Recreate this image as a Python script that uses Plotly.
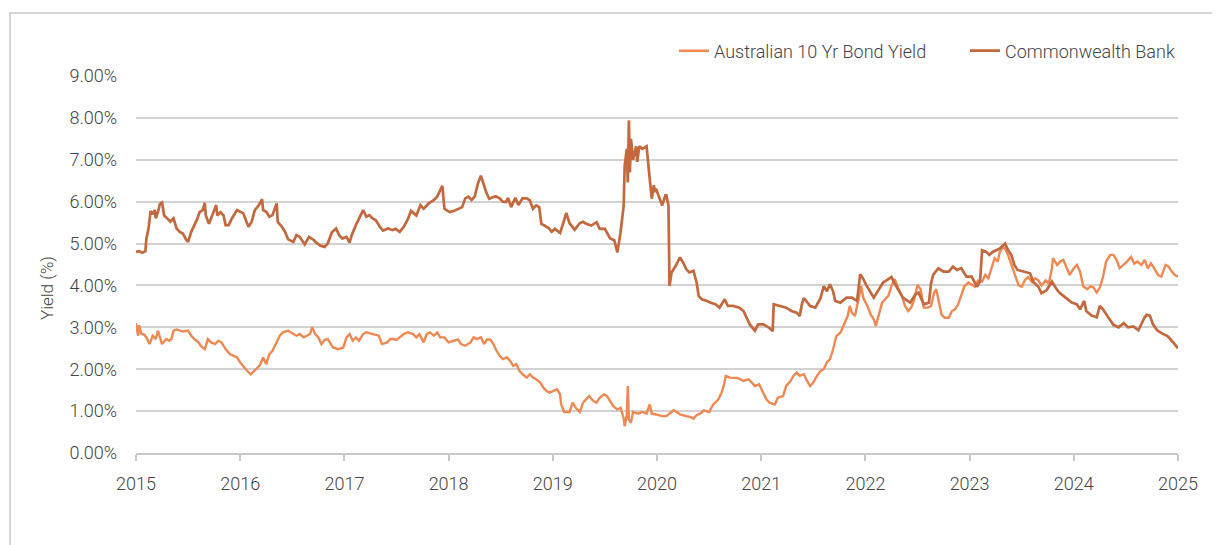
import plotly.graph_objects as go

# ---- Data (decimal years, yield %) ----
cba_x = [2015.00, 2015.03, 2015.06, 2015.09, 2015.10, 2015.12, 2015.14, 2015.16, 2015.18, 2015.19,
         2015.21, 2015.23, 2015.25, 2015.27, 2015.30, 2015.33, 2015.36, 2015.39, 2015.42, 2015.45,
         2015.48, 2015.50, 2015.53, 2015.56, 2015.59, 2015.61, 2015.64, 2015.66, 2015.67, 2015.70,
         2015.74, 2015.77, 2015.78, 2015.81, 2015.84, 2015.86, 2015.89, 2015.92, 2015.97, 2016.00,
         2016.03, 2016.06, 2016.08, 2016.11, 2016.14, 2016.18, 2016.21, 2016.22, 2016.25, 2016.28,
         2016.31, 2016.35, 2016.36, 2016.40, 2016.43, 2016.46, 2016.51, 2016.54, 2016.57, 2016.62,
         2016.66, 2016.71, 2016.72, 2016.77, 2016.81, 2016.84, 2016.88, 2016.92, 2016.95, 2016.98,
         2017.02, 2017.05, 2017.07, 2017.11, 2017.14, 2017.18, 2017.21, 2017.24, 2017.27, 2017.30,
         2017.34, 2017.37, 2017.42, 2017.46, 2017.49, 2017.53, 2017.57, 2017.61, 2017.64, 2017.69,
         2017.73, 2017.76, 2017.81, 2017.86, 2017.89, 2017.93, 2017.94, 2017.96, 2018.01, 2018.06,
         2018.09, 2018.13, 2018.16, 2018.19, 2018.22, 2018.25, 2018.28, 2018.31, 2018.33, 2018.36,
         2018.39, 2018.45, 2018.49, 2018.52, 2018.55, 2018.57, 2018.60, 2018.64, 2018.67, 2018.71,
         2018.75, 2018.78, 2018.81, 2018.84, 2018.87, 2018.89, 2018.92, 2018.96, 2018.99, 2019.02,
         2019.07, 2019.10, 2019.13, 2019.16, 2019.21, 2019.26, 2019.29, 2019.32, 2019.37, 2019.42,
         2019.45, 2019.50, 2019.55, 2019.59, 2019.62, 2019.65, 2019.68, 2019.69, 2019.71, 2019.72,
         2019.73, 2019.74, 2019.75, 2019.77, 2019.80, 2019.81, 2019.83, 2019.86, 2019.90, 2019.93,
         2019.95, 2019.97, 2019.98, 2019.99, 2020.03, 2020.05, 2020.08, 2020.09, 2020.11, 2020.12,
         2020.14, 2020.18, 2020.22, 2020.25, 2020.28, 2020.31, 2020.35, 2020.38, 2020.40, 2020.43,
         2020.48, 2020.51, 2020.56, 2020.60, 2020.65, 2020.68, 2020.73, 2020.79, 2020.83, 2020.86,
         2020.89, 2020.94, 2020.97, 2021.02, 2021.07, 2021.11, 2021.12, 2021.18, 2021.24, 2021.29,
         2021.34, 2021.37, 2021.39, 2021.41, 2021.43, 2021.47, 2021.52, 2021.57, 2021.60, 2021.63,
         2021.66, 2021.69, 2021.71, 2021.76, 2021.82, 2021.87, 2021.92, 2021.95, 2021.98, 2022.01,
         2022.08, 2022.12, 2022.17, 2022.22, 2022.25, 2022.28, 2022.32, 2022.36, 2022.43, 2022.48,
         2022.51, 2022.56, 2022.61, 2022.63, 2022.65, 2022.70, 2022.75, 2022.80, 2022.84, 2022.88,
         2022.92, 2022.97, 2023.02, 2023.07, 2023.10, 2023.12, 2023.16, 2023.19, 2023.22, 2023.25,
         2023.29, 2023.34, 2023.37, 2023.40, 2023.43, 2023.46, 2023.52, 2023.58, 2023.61, 2023.66,
         2023.69, 2023.74, 2023.79, 2023.84, 2023.87, 2023.93, 2023.98, 2024.03, 2024.06, 2024.10,
         2024.12, 2024.17, 2024.22, 2024.25, 2024.28, 2024.33, 2024.38, 2024.43, 2024.48, 2024.52,
         2024.57, 2024.62, 2024.65, 2024.68, 2024.70, 2024.73, 2024.76, 2024.80, 2024.85, 2024.90,
         2024.95, 2025.00]
cba_y = [4.80, 4.82, 4.78, 4.82, 5.12, 5.35, 5.78, 5.70, 5.80, 5.60,
         5.75, 5.95, 5.98, 5.67, 5.60, 5.52, 5.60, 5.36, 5.28, 5.24,
         5.10, 5.04, 5.28, 5.44, 5.60, 5.75, 5.80, 5.97, 5.67, 5.47,
         5.75, 5.92, 5.67, 5.75, 5.67, 5.44, 5.44, 5.60, 5.80, 5.75,
         5.72, 5.52, 5.40, 5.52, 5.80, 5.92, 6.06, 5.80, 5.76, 5.64,
         5.68, 5.96, 5.52, 5.40, 5.28, 5.10, 5.04, 5.20, 5.16, 4.98,
         5.16, 5.08, 5.04, 4.95, 4.92, 5.00, 5.27, 5.36, 5.20, 5.12,
         5.16, 5.02, 5.20, 5.44, 5.60, 5.80, 5.64, 5.68, 5.60, 5.56,
         5.40, 5.31, 5.36, 5.32, 5.35, 5.28, 5.40, 5.59, 5.78, 5.67,
         5.92, 5.83, 5.96, 6.04, 6.12, 6.30, 6.38, 5.83, 5.75, 5.79,
         5.83, 5.87, 6.08, 6.12, 6.04, 6.12, 6.42, 6.62, 6.47, 6.23,
         6.07, 6.13, 6.08, 6.00, 5.99, 6.09, 5.87, 6.09, 5.92, 6.08,
         6.08, 6.03, 5.83, 5.91, 5.87, 5.47, 5.43, 5.37, 5.28, 5.35,
         5.25, 5.52, 5.73, 5.49, 5.33, 5.49, 5.52, 5.47, 5.43, 5.51,
         5.35, 5.35, 5.12, 5.08, 4.79, 5.27, 5.90, 6.86, 7.26, 6.46,
         7.94, 6.70, 7.50, 7.00, 7.32, 6.95, 7.32, 7.26, 7.32, 6.55,
         6.07, 6.39, 6.23, 6.31, 6.07, 5.91, 6.15, 6.15, 5.91, 3.99,
         4.31, 4.47, 4.67, 4.55, 4.39, 4.31, 4.35, 4.07, 3.75, 3.67,
         3.63, 3.59, 3.55, 3.47, 3.67, 3.51, 3.51, 3.47, 3.39, 3.23,
         3.07, 2.92, 3.07, 3.07, 3.00, 2.91, 3.55, 3.51, 3.47, 3.39,
         3.35, 3.27, 3.55, 3.70, 3.63, 3.51, 3.47, 3.70, 3.98, 3.86,
         4.03, 3.86, 3.63, 3.59, 3.71, 3.71, 3.63, 4.27, 4.15, 4.00,
         3.71, 3.87, 4.07, 4.15, 4.20, 4.05, 3.89, 3.71, 3.59, 3.79,
         3.83, 3.55, 3.59, 4.05, 4.25, 4.41, 4.33, 4.33, 4.45, 4.37,
         4.41, 4.21, 4.21, 3.97, 4.09, 4.84, 4.80, 4.73, 4.80, 4.84,
         4.88, 5.00, 4.84, 4.73, 4.49, 4.37, 4.33, 4.29, 4.09, 3.97,
         3.81, 3.89, 4.09, 3.89, 3.81, 3.69, 3.59, 3.55, 3.43, 3.63,
         3.39, 3.28, 3.24, 3.51, 3.43, 3.24, 3.06, 3.00, 3.10, 3.00,
         3.02, 2.93, 3.10, 3.24, 3.30, 3.28, 3.07, 2.93, 2.85, 2.79,
         2.65, 2.50]

bond_x = [2015.00, 2015.02, 2015.03, 2015.05, 2015.08, 2015.10, 2015.13, 2015.14, 2015.16, 2015.19,
          2015.21, 2015.24, 2015.25, 2015.29, 2015.32, 2015.34, 2015.36, 2015.39, 2015.42, 2015.45,
          2015.50, 2015.53, 2015.56, 2015.60, 2015.62, 2015.66, 2015.69, 2015.72, 2015.76, 2015.79,
          2015.82, 2015.86, 2015.90, 2015.93, 2015.97, 2016.00, 2016.03, 2016.06, 2016.10, 2016.13,
          2016.16, 2016.19, 2016.22, 2016.25, 2016.28, 2016.31, 2016.35, 2016.38, 2016.41, 2016.46,
          2016.51, 2016.54, 2016.57, 2016.61, 2016.64, 2016.67, 2016.69, 2016.72, 2016.75, 2016.78,
          2016.81, 2016.84, 2016.86, 2016.89, 2016.94, 2016.99, 2017.02, 2017.05, 2017.08, 2017.11,
          2017.14, 2017.18, 2017.21, 2017.27, 2017.33, 2017.36, 2017.41, 2017.44, 2017.47, 2017.50,
          2017.53, 2017.57, 2017.61, 2017.66, 2017.69, 2017.72, 2017.76, 2017.79, 2017.82, 2017.86,
          2017.89, 2017.92, 2017.96, 2018.00, 2018.05, 2018.09, 2018.12, 2018.16, 2018.21, 2018.24,
          2018.27, 2018.31, 2018.34, 2018.37, 2018.40, 2018.43, 2018.46, 2018.49, 2018.52, 2018.56,
          2018.59, 2018.62, 2018.65, 2018.68, 2018.71, 2018.75, 2018.78, 2018.81, 2018.84, 2018.88,
          2018.91, 2018.94, 2018.97, 2019.00, 2019.04, 2019.07, 2019.08, 2019.11, 2019.16, 2019.19,
          2019.22, 2019.26, 2019.29, 2019.32, 2019.35, 2019.39, 2019.42, 2019.45, 2019.49, 2019.52,
          2019.55, 2019.58, 2019.62, 2019.65, 2019.68, 2019.69, 2019.71, 2019.72, 2019.73, 2019.75,
          2019.77, 2019.82, 2019.86, 2019.90, 2019.93, 2019.95, 2019.99, 2020.05, 2020.09, 2020.13,
          2020.16, 2020.19, 2020.22, 2020.28, 2020.32, 2020.35, 2020.38, 2020.42, 2020.45, 2020.50,
          2020.54, 2020.59, 2020.62, 2020.64, 2020.66, 2020.70, 2020.77, 2020.83, 2020.88, 2020.91,
          2020.94, 2020.98, 2021.02, 2021.05, 2021.08, 2021.13, 2021.16, 2021.21, 2021.24, 2021.28,
          2021.31, 2021.34, 2021.37, 2021.41, 2021.44, 2021.47, 2021.50, 2021.53, 2021.57, 2021.60,
          2021.63, 2021.66, 2021.69, 2021.72, 2021.76, 2021.80, 2021.83, 2021.85, 2021.87, 2021.90,
          2021.93, 2021.96, 2021.98, 2022.02, 2022.05, 2022.08, 2022.10, 2022.13, 2022.16, 2022.19,
          2022.22, 2022.25, 2022.28, 2022.32, 2022.35, 2022.38, 2022.41, 2022.44, 2022.47, 2022.50,
          2022.53, 2022.56, 2022.60, 2022.63, 2022.66, 2022.68, 2022.70, 2022.73, 2022.76, 2022.80,
          2022.83, 2022.86, 2022.89, 2022.92, 2022.95, 2022.99, 2023.02, 2023.05, 2023.08, 2023.12,
          2023.15, 2023.18, 2023.21, 2023.24, 2023.27, 2023.29, 2023.32, 2023.34, 2023.37, 2023.40,
          2023.43, 2023.47, 2023.50, 2023.53, 2023.56, 2023.60, 2023.63, 2023.66, 2023.69, 2023.73,
          2023.76, 2023.79, 2023.80, 2023.84, 2023.87, 2023.90, 2023.93, 2023.96, 2024.00, 2024.03,
          2024.06, 2024.09, 2024.13, 2024.16, 2024.19, 2024.22, 2024.25, 2024.28, 2024.31, 2024.35,
          2024.38, 2024.41, 2024.44, 2024.48, 2024.51, 2024.55, 2024.58, 2024.61, 2024.65, 2024.68,
          2024.71, 2024.74, 2024.76, 2024.81, 2024.84, 2024.88, 2024.91, 2024.94, 2024.97, 2025.00]
bond_y = [3.10, 2.80, 3.05, 2.85, 2.82, 2.76, 2.60, 2.68, 2.80, 2.72,
          2.92, 2.68, 2.60, 2.72, 2.68, 2.72, 2.92, 2.95, 2.92, 2.90,
          2.92, 2.80, 2.72, 2.64, 2.56, 2.48, 2.72, 2.64, 2.60, 2.68,
          2.64, 2.48, 2.36, 2.32, 2.28, 2.16, 2.06, 1.98, 1.88, 1.94,
          2.02, 2.10, 2.28, 2.12, 2.36, 2.44, 2.64, 2.80, 2.88, 2.92,
          2.84, 2.80, 2.84, 2.76, 2.80, 2.84, 3.00, 2.84, 2.76, 2.60,
          2.70, 2.72, 2.64, 2.52, 2.48, 2.52, 2.76, 2.84, 2.68, 2.76,
          2.68, 2.84, 2.88, 2.84, 2.80, 2.60, 2.64, 2.72, 2.72, 2.70,
          2.76, 2.84, 2.88, 2.84, 2.76, 2.84, 2.64, 2.84, 2.88, 2.80,
          2.88, 2.76, 2.76, 2.64, 2.68, 2.71, 2.60, 2.56, 2.64, 2.76,
          2.72, 2.76, 2.60, 2.71, 2.71, 2.60, 2.44, 2.32, 2.24, 2.28,
          2.20, 2.08, 2.12, 1.96, 1.88, 1.80, 1.88, 1.80, 1.76, 1.68,
          1.56, 1.48, 1.44, 1.48, 1.52, 1.40, 1.16, 0.98, 0.98, 1.20,
          1.08, 0.98, 1.20, 1.28, 1.36, 1.24, 1.20, 1.32, 1.40, 1.36,
          1.24, 1.12, 1.04, 1.08, 0.83, 0.64, 0.90, 1.60, 0.80, 0.72,
          0.98, 0.94, 0.98, 0.94, 1.16, 0.94, 0.92, 0.88, 0.88, 0.95,
          1.02, 0.98, 0.92, 0.88, 0.86, 0.82, 0.90, 0.95, 1.02, 0.98,
          1.16, 1.28, 1.44, 1.60, 1.84, 1.80, 1.79, 1.72, 1.76, 1.68,
          1.60, 1.64, 1.44, 1.28, 1.20, 1.16, 1.32, 1.36, 1.60, 1.71,
          1.84, 1.92, 1.84, 1.88, 1.72, 1.60, 1.68, 1.82, 1.96, 2.00,
          2.16, 2.24, 2.47, 2.79, 2.87, 3.11, 3.27, 3.51, 3.35, 3.27,
          3.59, 3.98, 3.70, 3.51, 3.31, 3.19, 3.03, 3.31, 3.59, 3.67,
          3.75, 3.98, 4.15, 3.91, 3.75, 3.51, 3.39, 3.47, 3.67, 4.01,
          3.91, 3.47, 3.47, 3.51, 3.83, 3.91, 3.67, 3.31, 3.23, 3.23,
          3.39, 3.43, 3.55, 3.79, 3.98, 4.07, 4.03, 3.97, 4.12, 4.09,
          4.25, 4.17, 4.41, 4.65, 4.57, 4.80, 4.92, 4.88, 4.72, 4.48,
          4.29, 4.00, 3.97, 4.12, 4.20, 4.08, 4.17, 4.12, 4.00, 4.12,
          4.04, 4.41, 4.65, 4.49, 4.57, 4.61, 4.41, 4.25, 4.41, 4.49,
          4.33, 3.98, 3.91, 3.98, 3.95, 3.83, 3.95, 4.20, 4.57, 4.73,
          4.73, 4.61, 4.41, 4.49, 4.57, 4.68, 4.52, 4.57, 4.49, 4.61,
          4.41, 4.53, 4.45, 4.25, 4.21, 4.49, 4.45, 4.33, 4.25, 4.21]

year_ticks = [2015, 2016, 2017, 2018, 2019, 2020, 2021, 2022, 2023, 2024, 2025]
year_labels = [str(y) for y in year_ticks]
yield_ticks = [0, 1, 2, 3, 4, 5, 6, 7, 8, 9]
yield_labels = ["0.00%", "1.00%", "2.00%", "3.00%", "4.00%", "5.00%", "6.00%", "7.00%", "8.00%", "9.00%"]

BOND_COLOR = "#F08852"
CBA_COLOR = "#C4683D"
TEXT = "#444444"
FONT = "Roboto"

fig = go.Figure()
fig.add_trace(go.Scatter(x=bond_x, y=bond_y, mode="lines", name="Australian 10 Yr Bond Yield",
                         line=dict(color=BOND_COLOR, width=2.4)))
fig.add_trace(go.Scatter(x=cba_x, y=cba_y, mode="lines", name="Commonwealth Bank",
                         line=dict(color=CBA_COLOR, width=2.7)))

# page body has an 8px margin, so the figure is offset by 8px in the screenshot
OFF = 8
W, H = 1220 - OFF, 545 - OFF
ml, mr, mt, mb = 136 - OFF, 42, 76 - OFF, 92
pw = W - ml - mr
ph = H - mt - mb

def px_x(p):  # screen px -> paper x
    return (p - OFF - ml) / pw

def px_y(p):  # screen px -> paper y
    return (H - mb - (p - OFF)) / ph

fig.update_layout(
    width=W, height=H,
    margin=dict(l=ml, r=mr, t=mt, b=mb, pad=0, autoexpand=False),
    paper_bgcolor="white", plot_bgcolor="white",
    font=dict(family=FONT, size=18, color=TEXT, weight=300),
    showlegend=True,
    legend=dict(orientation="h", x=px_x(674), xanchor="left", y=px_y(51), yanchor="middle",
                font=dict(family=FONT, size=18, color=TEXT, weight=300),
                bgcolor="rgba(0,0,0,0)", entrywidth=246, entrywidthmode="pixels",
                borderwidth=0),
    xaxis=dict(range=[2015, 2025], tickmode="array", tickvals=year_ticks, ticktext=year_labels,
               showgrid=False, zeroline=False, showline=True, linecolor="#c8c8c8", linewidth=1.5,
               ticks="outside", ticklen=6, tickcolor="#c8c8c8", tickwidth=1.5,
               ticklabelstandoff=8,
               tickfont=dict(family=FONT, size=18, color=TEXT, weight=300)),
    yaxis=dict(range=[0, 9], tickmode="array", tickvals=yield_ticks, ticktext=yield_labels,
               showgrid=True, gridcolor="#d2d2d2", gridwidth=1.5, zeroline=False, showline=False,
               ticks="", ticklabelstandoff=18,
               tickfont=dict(family=FONT, size=18, color=TEXT, weight=300)),
    annotations=[dict(text="Yield (%)", xref="paper", yref="paper", x=px_x(47), y=px_y(288),
                      textangle=-90, showarrow=False, xanchor="center", yanchor="middle",
                      font=dict(family=FONT, size=17, color=TEXT, weight=300))],
    shapes=[dict(type="rect", xref="paper", yref="paper", x0=px_x(10), x1=px_x(1260),
                 y0=px_y(600), y1=px_y(13), line=dict(color="#c8c8c8", width=1.5),
                 fillcolor="rgba(0,0,0,0)", layer="below")],
)

fig.write_html("out.html")
